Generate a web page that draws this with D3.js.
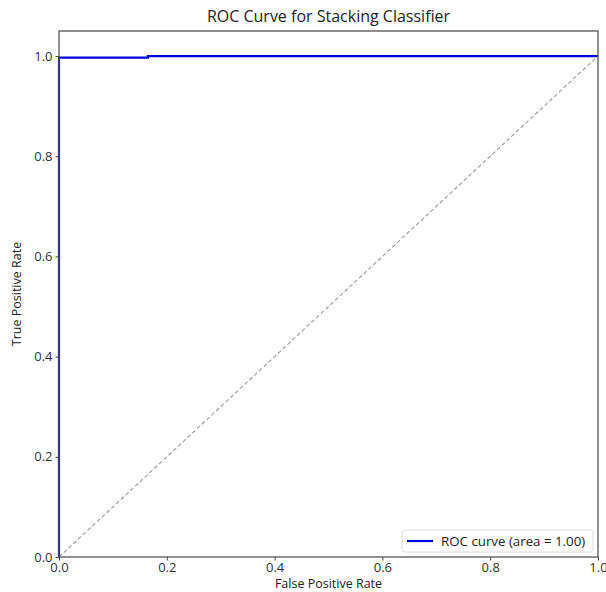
<!DOCTYPE html>
<html lang="en">
<head>
  <meta charset="UTF-8">
  <title>ROC Curve for Stacking Classifier</title>
  <script src="https://d3js.org/d3.v7.min.js"></script>
  <style>
    body {
      margin: 0;
      background: #ffffff;
      font-family: 'Open Sans', sans-serif;
    }
    svg { display: block; }
    .tick text { font-size: 13px; fill: #333; font-family: 'Open Sans', sans-serif; }
    .tick line { stroke: #444; }
    .domain { stroke: none; }
  </style>
</head>
<body>
  <svg width="606" height="592"></svg>

  <script>
    // ROC points
    const fpr = [0, 0, 0.165, 0.165, 1];
    const tpr = [0, 0.997, 0.997, 1, 1];
    const diagX = [0, 1];
    const diagY = [0, 1];
    const tickValues = [0, 0.2, 0.4, 0.6, 0.8, 1.0];
    const legendLabel = "ROC curve (area = 1.00)";

    const svg = d3.select("svg");
    const m = { left: 59, right: 598, top: 31, bottom: 557 };

    const x = d3.scaleLinear().domain([0, 1]).range([m.left, m.right]);
    const y = d3.scaleLinear().domain([0, 1.05]).range([m.bottom, m.top]);

    // diagonal
    const line = d3.line().x(d => x(d[0])).y(d => y(d[1]));
    svg.append("path")
      .attr("d", line(diagX.map((v, i) => [v, diagY[i]])))
      .attr("fill", "none")
      .attr("stroke", "#999")
      .attr("stroke-width", 1.1)
      .attr("stroke-dasharray", "4,2.5");

    // roc curve
    svg.append("path")
      .attr("d", line(fpr.map((v, i) => [v, tpr[i]])))
      .attr("fill", "none")
      .attr("stroke", "#0000dd")
      .attr("stroke-width", 2.2);

    // frame
    svg.append("rect")
      .attr("x", m.left).attr("y", m.top)
      .attr("width", m.right - m.left).attr("height", m.bottom - m.top)
      .attr("fill", "none")
      .attr("stroke", "#555")
      .attr("stroke-width", 1.3);

    const fmt = d3.format(".1f");
    svg.append("g")
      .attr("transform", `translate(0,${m.bottom})`)
      .call(d3.axisBottom(x).tickValues(tickValues).tickFormat(fmt).tickSize(3.5).tickPadding(2));
    svg.append("g")
      .attr("transform", `translate(${m.left},0)`)
      .call(d3.axisLeft(y).tickValues(tickValues).tickFormat(fmt).tickSize(3.5).tickPadding(3));

    // title and labels
    svg.append("text")
      .attr("x", (m.left + m.right) / 2).attr("y", 22)
      .attr("text-anchor", "middle")
      .attr("font-size", 16).attr("fill", "#222")
      .text("ROC Curve for Stacking Classifier");
    svg.append("text")
      .attr("x", (m.left + m.right) / 2).attr("y", 588)
      .attr("text-anchor", "middle")
      .attr("font-size", 12.5).attr("fill", "#222")
      .text("False Positive Rate");
    svg.append("text")
      .attr("transform", `translate(21,${(m.top + m.bottom) / 2}) rotate(-90)`)
      .attr("text-anchor", "middle")
      .attr("font-size", 12.5).attr("fill", "#222")
      .text("True Positive Rate");

    // legend
    const lg = svg.append("g").attr("transform", "translate(402,530)");
    lg.append("rect")
      .attr("width", 191).attr("height", 22).attr("rx", 3)
      .attr("fill", "#fff").attr("stroke", "#ddd");
    lg.append("line")
      .attr("x1", 5).attr("x2", 31).attr("y1", 11).attr("y2", 11)
      .attr("stroke", "#0000dd").attr("stroke-width", 2.2);
    lg.append("text")
      .attr("x", 39).attr("y", 15.5)
      .attr("font-size", 13.3).attr("fill", "#222")
      .text(legendLabel);
  </script>
</body>
</html>
